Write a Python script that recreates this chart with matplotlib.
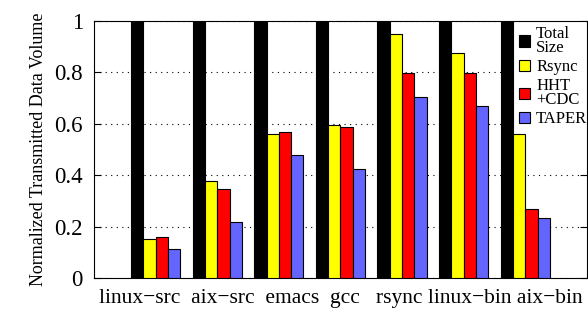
import numpy as np
import matplotlib
matplotlib.use('Agg')
import matplotlib.pyplot as plt

plt.rcParams['font.family'] = ['Liberation Serif', 'DejaVu Serif']

# data
datasets = ['linux−src', 'aix−src', 'emacs', 'gcc', 'rsync', 'linux−bin', 'aix−bin']
total_size = [1.0, 1.0, 1.0, 1.0, 1.0, 1.0, 1.0]
rsync = [0.152, 0.379, 0.560, 0.594, 0.951, 0.877, 0.559]
hht_cdc = [0.158, 0.345, 0.568, 0.589, 0.799, 0.799, 0.270]
taper = [0.112, 0.217, 0.479, 0.426, 0.706, 0.669, 0.235]

series = [('Total\nSize', total_size, 'black'),
          ('Rsync', rsync, '#ffff00'),
          ('HHT\n+CDC', hht_cdc, '#ff0000'),
          ('TAPER', taper, '#6464ff')]

fig = plt.figure(figsize=(5.88, 3.16), dpi=100)
ax = fig.add_axes([0.160, 0.120, 0.838, 0.8135])

x = np.arange(len(datasets))
w = 0.2
for k, (lab, vals, col) in enumerate(series):
    ax.bar(x - 0.4 + k * w, vals, width=w, align='edge', color=col,
           edgecolor='black', linewidth=0.8, label=lab, zorder=3)

ax.set_xlim(-1, 7)
ax.set_ylim(0, 1)
ax.set_yticks([0, 0.2, 0.4, 0.6, 0.8, 1])
ax.set_yticklabels(['0', '0.2', '0.4', '0.6', '0.8', '1'], fontsize=16.5)
ax.set_xticks([])
ax.yaxis.grid(True, linestyle=(0, (1, 4)), color='black', linewidth=0.8, zorder=0)
ax.tick_params(axis='y', direction='in', length=5, right=True, pad=8)
for s in ax.spines.values():
    s.set_linewidth(0.8)

# the category names sit as one line of text under the axis (gnuplot style)
gaps = ['  ', '  ', '  ', '   ', ' ', ' ']
xlab = datasets[0] + ''.join(g + d for g, d in zip(gaps, datasets[1:]))
ax.set_xlabel(xlab, fontsize=15.5, labelpad=8)
ax.set_ylabel('Normalized Transmitted Data Volume', fontsize=13, labelpad=5)

# key sits in the empty slot right of the last group, over the grid
leg = ax.legend(loc='upper left', bbox_to_anchor=(0.853, 1.0), fontsize=12,
                frameon=True, fancybox=False, edgecolor='none', framealpha=1,
                borderaxespad=0.0, borderpad=0.3, handlelength=0.65,
                handleheight=0.65, handletextpad=0.35, labelspacing=0.2)
for t in leg.get_texts():
    t.set_linespacing(0.8)
leg.set_zorder(2.4)

fig.savefig('out.png', dpi=100)
